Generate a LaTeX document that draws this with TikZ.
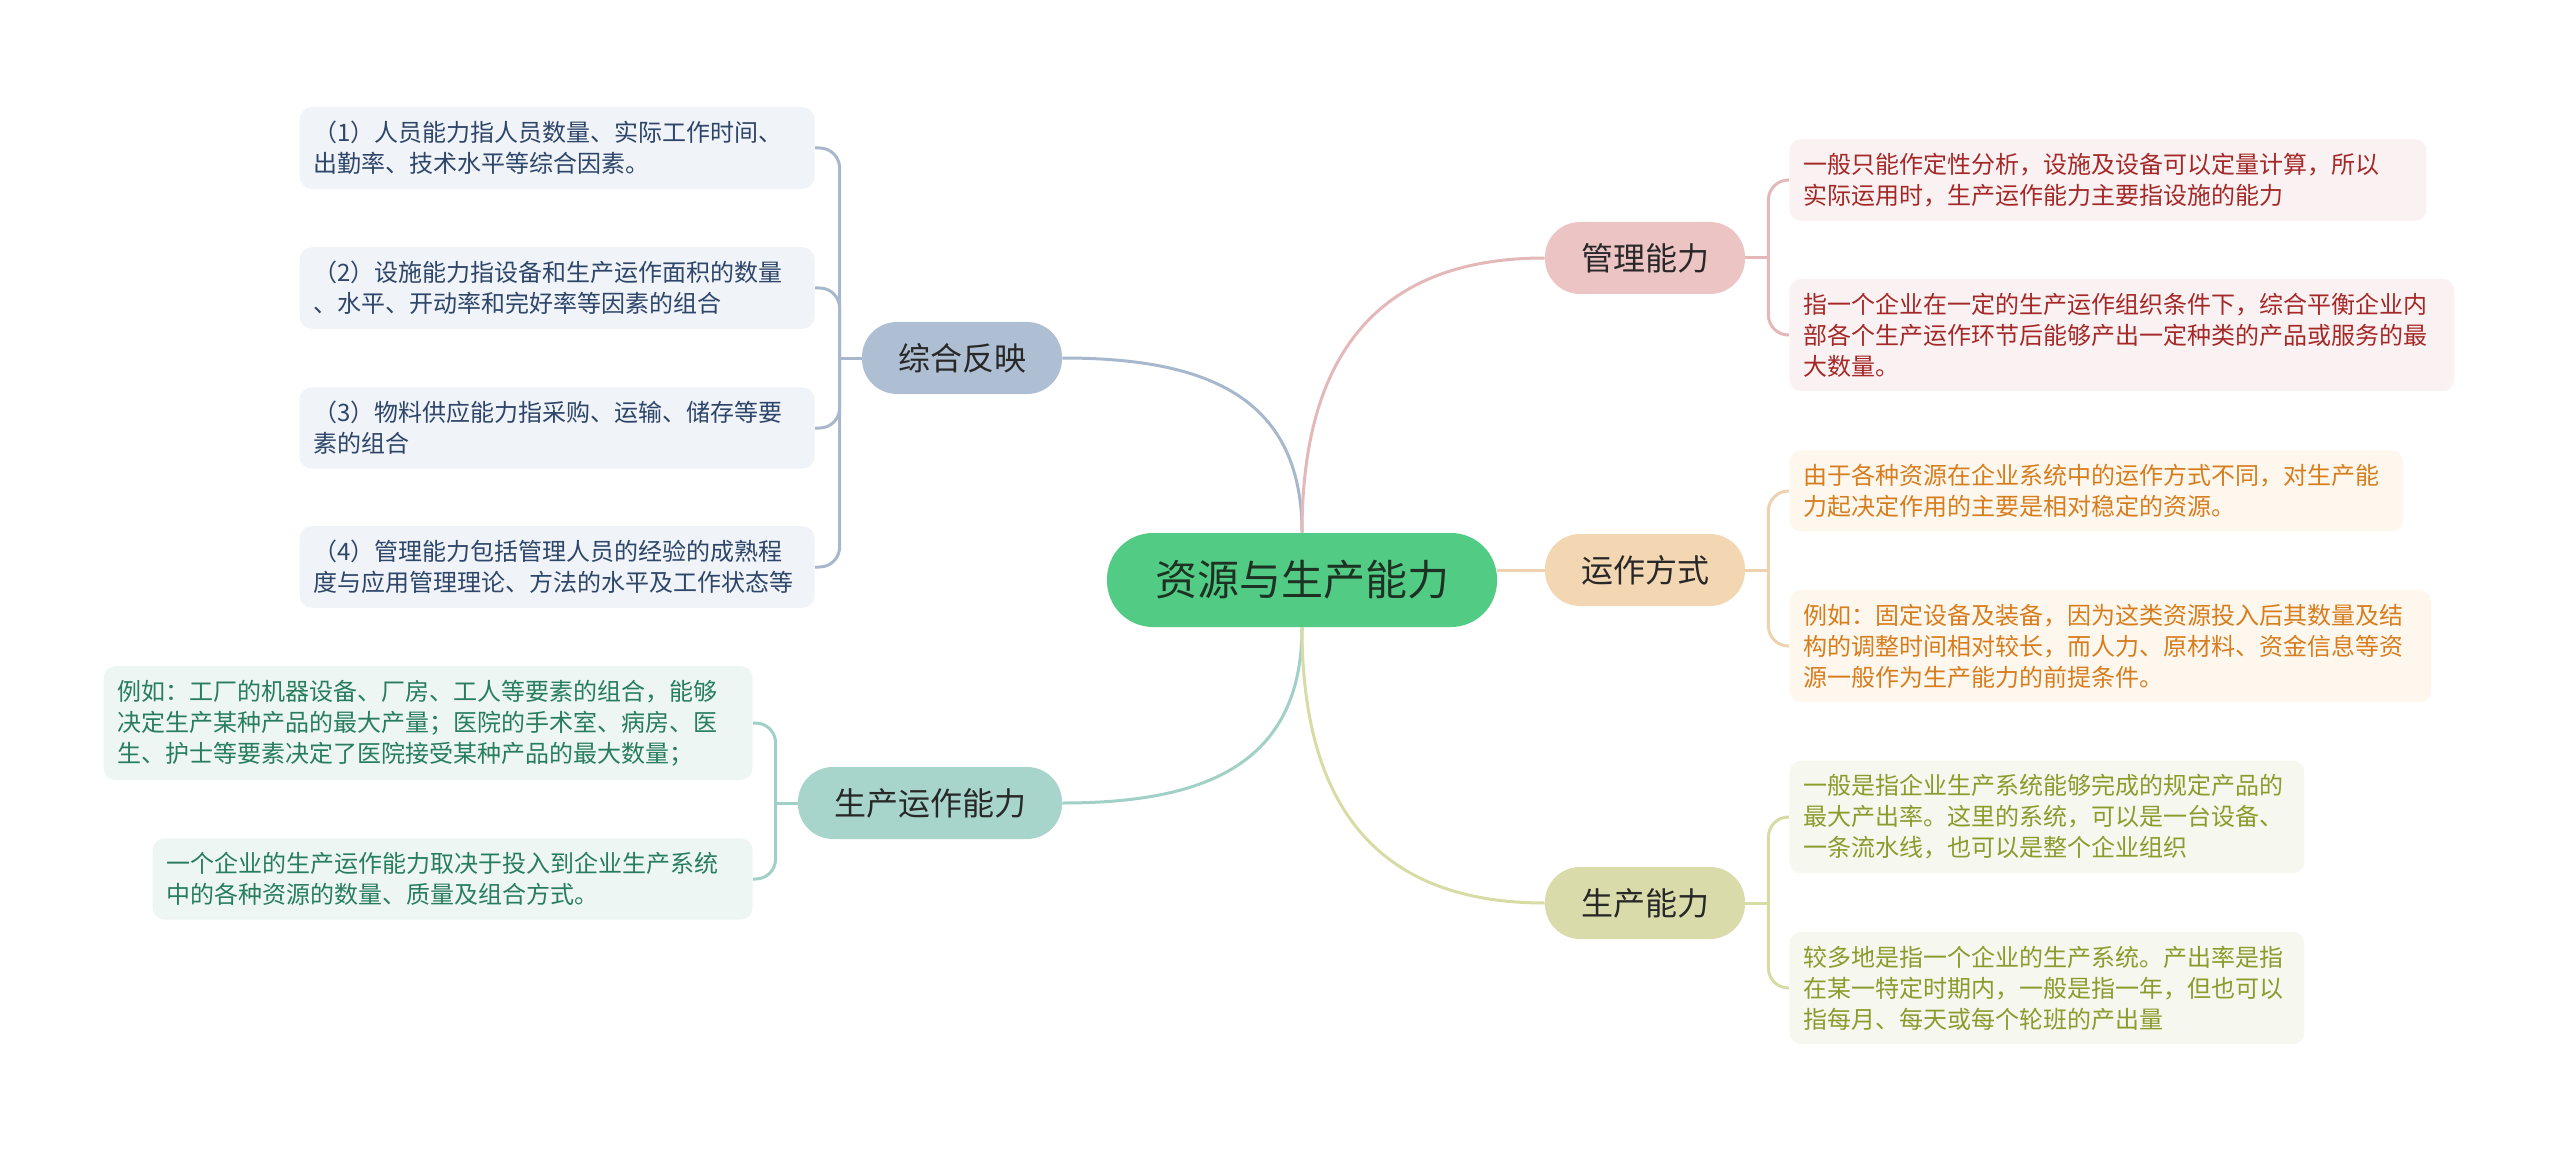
\documentclass[tikz,border=0pt]{standalone}
\usepackage{fontspec}
\setmainfont{Noto Sans CJK SC}
\usepackage{tikz}
\usetikzlibrary{positioning, backgrounds}
\definecolor{rootgreen}{RGB}{82, 204, 133}
\definecolor{rootink}{RGB}{30, 50, 36}
\definecolor{darkink}{RGB}{40, 40, 40}
\definecolor{zhfill}{RGB}{175, 191, 211}
\definecolor{zhline}{RGB}{168, 184, 204}
\definecolor{zhleaf}{RGB}{240, 243, 247}
\definecolor{zhtext}{RGB}{45, 70, 105}
\definecolor{scfill}{RGB}{168, 213, 203}
\definecolor{scline}{RGB}{160, 208, 198}
\definecolor{scleaf}{RGB}{238, 246, 244}
\definecolor{sctext}{RGB}{40, 125, 95}
\definecolor{glfill}{RGB}{237, 196, 196}
\definecolor{glline}{RGB}{228, 184, 184}
\definecolor{glleaf}{RGB}{250, 242, 242}
\definecolor{gltext}{RGB}{165, 40, 40}
\definecolor{yzfill}{RGB}{243, 214, 178}
\definecolor{yzline}{RGB}{238, 210, 175}
\definecolor{yzleaf}{RGB}{254, 247, 238}
\definecolor{yztext}{RGB}{215, 125, 30}
\definecolor{nlfill}{RGB}{217, 220, 170}
\definecolor{nlline}{RGB}{215, 220, 165}
\definecolor{nlleaf}{RGB}{246, 247, 238}
\definecolor{nltext}{RGB}{140, 155, 45}

\begin{document}
\begin{tikzpicture}[x=0.5pt, y=-0.5pt,
  rootbox/.style={fill=rootgreen, text=rootink, rounded corners=23pt, minimum height=47pt, inner xsep=24pt, font=\fontsize{21}{25}\selectfont},
  branchbox/.style={text=darkink, rounded corners=17.5pt, minimum height=36pt, inner xsep=18pt, font=\fontsize{16}{19}\selectfont},
  leafbox/.style={rounded corners=6pt, align=left, inner xsep=7pt, inner ysep=7pt, font=\fontsize{12}{15.5}\selectfont},
  conn/.style={line width=1.5pt},
  bracket/.style={line width=1.5pt, rounded corners=10pt}
]
\useasboundingbox (0,0) rectangle (2560,1155);

% Centre
\node[rootbox] (root) at (1302, 580) {资源与生产能力};

% Branches
\node[branchbox, fill=zhfill] (zh) at (962, 358) {综合反映};
\node[branchbox, fill=scfill] (sc) at (930, 803) {生产运作能力};
\node[branchbox, fill=glfill] (gl) at (1645, 258) {管理能力};
\node[branchbox, fill=yzfill] (yz) at (1645, 570) {运作方式};
\node[branchbox, fill=nlfill] (nl) at (1645, 903) {生产能力};

% Left leaves
\node[leafbox, fill=zhleaf, text=zhtext, text width=243.5pt, anchor=east] (l1) at (815, 148) {（1）人员能力指人员数量、实际工作时间、\\出勤率、技术水平等综合因素。};
\node[leafbox, fill=zhleaf, text=zhtext, text width=243.5pt, anchor=east] (l2) at (815, 288) {（2）设施能力指设备和生产运作面积的数量\\、水平、开动率和完好率等因素的组合};
\node[leafbox, fill=zhleaf, text=zhtext, text width=243.5pt, anchor=east] (l3) at (815, 428) {（3）物料供应能力指采购、运输、储存等要\\素的组合};
\node[leafbox, fill=zhleaf, text=zhtext, text width=243.5pt, anchor=east] (l4) at (815, 567) {（4）管理能力包括管理人员的经验的成熟程\\度与应用管理理论、方法的水平及工作状态等};

\node[leafbox, fill=scleaf, text=sctext, text width=310.5pt, anchor=east] (l5) at (753, 723) {例如：工厂的机器设备、厂房、工人等要素的组合，能够\\决定生产某种产品的最大产量；医院的手术室、病房、医\\生、护士等要素决定了医院接受某种产品的最大数量；};
\node[leafbox, fill=scleaf, text=sctext, text width=286pt, anchor=east] (l6) at (753, 879) {一个企业的生产运作能力取决于投入到企业生产系统\\中的各种资源的数量、质量及组合方式。};

% Right leaves
\node[leafbox, fill=glleaf, text=gltext, text width=304.5pt, anchor=west] (r1) at (1789, 180) {一般只能作定性分析，设施及设备可以定量计算，所以\\实际运用时，生产运作能力主要指设施的能力};
\node[leafbox, fill=glleaf, text=gltext, text width=318.5pt, anchor=west] (r2) at (1789, 335) {指一个企业在一定的生产运作组织条件下，综合平衡企业内\\部各个生产运作环节后能够产出一定种类的产品或服务的最\\大数量。};

\node[leafbox, fill=yzleaf, text=yztext, text width=293pt, anchor=west] (r3) at (1789, 491) {由于各种资源在企业系统中的运作方式不同，对生产能\\力起决定作用的主要是相对稳定的资源。};
\node[leafbox, fill=yzleaf, text=yztext, text width=307pt, anchor=west] (r4) at (1789, 646) {例如：固定设备及装备，因为这类资源投入后其数量及结\\构的调整时间相对较长，而人力、原材料、资金信息等资\\源一般作为生产能力的前提条件。};

\node[leafbox, fill=nlleaf, text=nltext, text width=243.5pt, anchor=west] (r5) at (1789, 817) {一般是指企业生产系统能够完成的规定产品的\\最大产出率。这里的系统，可以是一台设备、\\一条流水线，也可以是整个企业组织};
\node[leafbox, fill=nlleaf, text=nltext, text width=243.5pt, anchor=west] (r6) at (1789, 988) {较多地是指一个企业的生产系统。产出率是指\\在某一特定时期内，一般是指一年，但也可以\\指每月、每天或每个轮班的产出量};

% Junctions
\coordinate[left=11pt of zh.west] (zhj);
\coordinate[left=11pt of sc.west] (scj);
\coordinate[right=11.5pt of gl.east] (glj);
\coordinate[right=11.5pt of yz.east] (yzj);
\coordinate[right=11.5pt of nl.east] (nlj);

\begin{scope}[on background layer]
  % centre to branches
  \draw[conn, zhline] (root.north) to[out=90, in=0, looseness=1.2] (zh.east);
  \draw[conn, scline] (root.south) to[out=-90, in=0, looseness=1.2] (sc.east);
  \draw[conn, glline] (root.north) to[out=90, in=180, looseness=1.2] (gl.west);
  \draw[conn, yzline] (root.east |- yz.west) -- (yz.west);
  \draw[conn, nlline] (root.south) to[out=-90, in=180, looseness=1.2] (nl.west);

  % branches to leaves
  \draw[conn, zhline] (zh.west) -- (zhj);
  \draw[bracket, zhline] (zhj) |- (l1.east);
  \draw[bracket, zhline] (zhj) |- (l2.east);
  \draw[bracket, zhline] (zhj) |- (l3.east);
  \draw[bracket, zhline] (zhj) |- (l4.east);

  \draw[conn, scline] (sc.west) -- (scj);
  \draw[bracket, scline] (scj) |- (l5.east);
  \draw[bracket, scline] (scj) |- (l6.east);

  \draw[conn, glline] (gl.east) -- (glj);
  \draw[bracket, glline] (glj) |- (r1.west);
  \draw[bracket, glline] (glj) |- (r2.west);

  \draw[conn, yzline] (yz.east) -- (yzj);
  \draw[bracket, yzline] (yzj) |- (r3.west);
  \draw[bracket, yzline] (yzj) |- (r4.west);

  \draw[conn, nlline] (nl.east) -- (nlj);
  \draw[bracket, nlline] (nlj) |- (r5.west);
  \draw[bracket, nlline] (nlj) |- (r6.west);
\end{scope}

\end{tikzpicture}
\end{document}
